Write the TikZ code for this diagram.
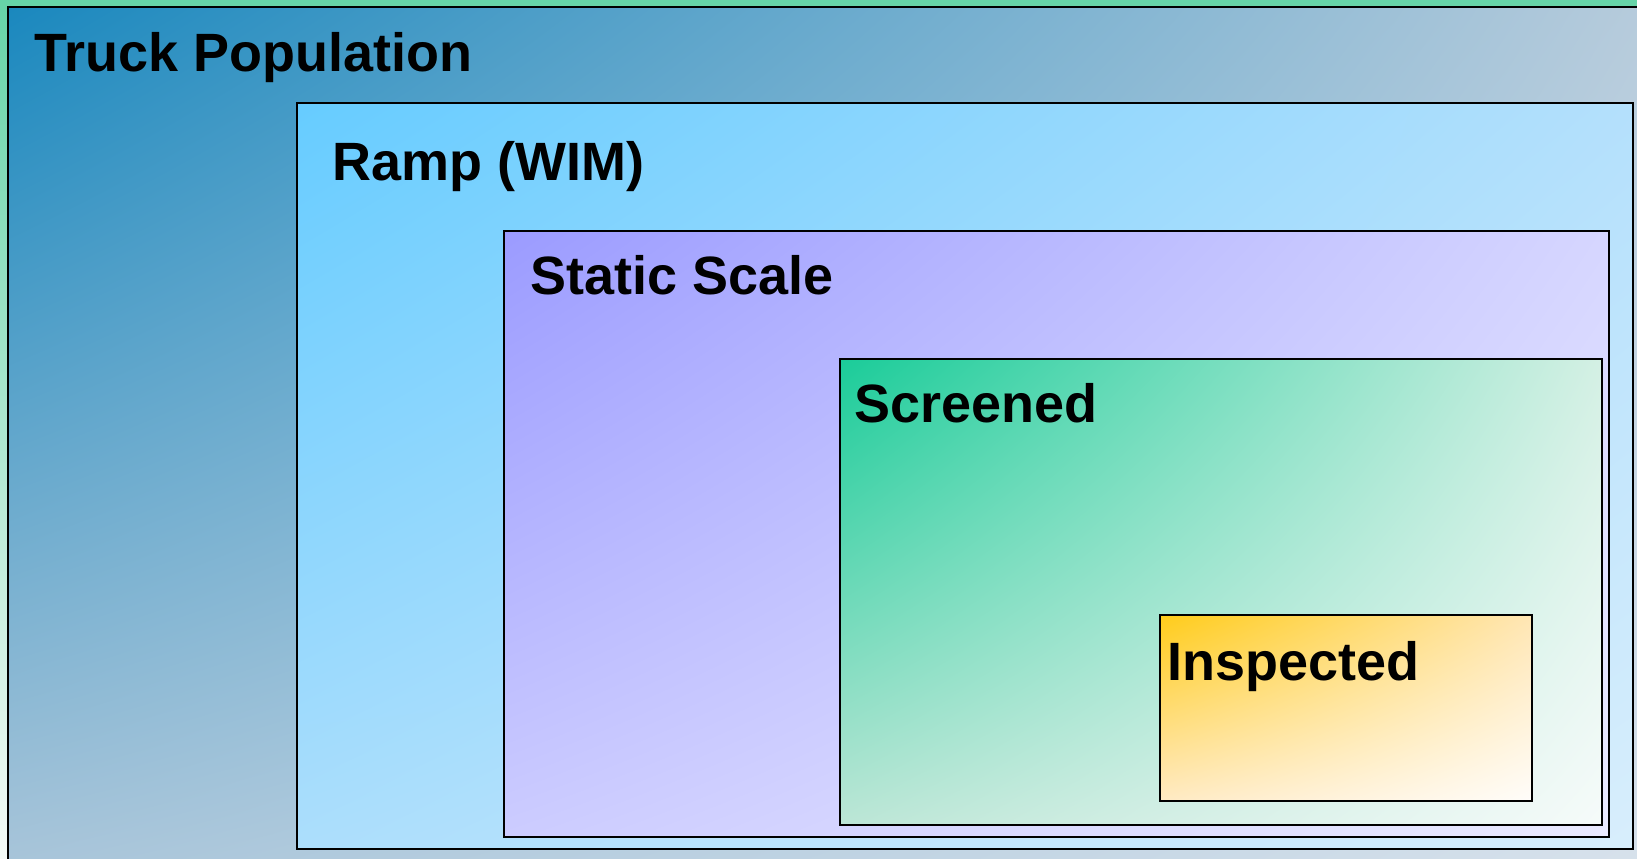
\documentclass[tikz,border=0pt]{standalone}
\usepackage{fontspec}
\setmainfont{Liberation Sans}
\usetikzlibrary{shadings}
\definecolor{bggreen}{HTML}{66D4A8}
\definecolor{bgwhite}{HTML}{F4FAF7}
% truck population
\definecolor{truckUL}{HTML}{1A88BE}
\definecolor{truckUR}{HTML}{B8CCDC}
\definecolor{truckLL}{HTML}{ABC6DA}
\definecolor{truckLR}{HTML}{D8E2EC}
% ramp
\definecolor{rampUL}{HTML}{66CCFF}
\definecolor{rampUR}{HTML}{B4E0FC}
\definecolor{rampLL}{HTML}{ACDEFC}
\definecolor{rampLR}{HTML}{D8EEFC}
% static scale
\definecolor{staticUL}{HTML}{9B9BFF}
\definecolor{staticUR}{HTML}{D6D6FF}
\definecolor{staticLL}{HTML}{CCCCFF}
\definecolor{staticLR}{HTML}{EAEAFF}
% screened
\definecolor{screenUL}{HTML}{1ACC99}
\definecolor{screenUR}{HTML}{D4F0E4}
\definecolor{screenLL}{HTML}{BCE6D6}
\definecolor{screenLR}{HTML}{F6FBFA}
% inspected
\definecolor{inspUL}{HTML}{FFCC1A}
\definecolor{inspUR}{HTML}{FFE6B4}
\definecolor{inspLL}{HTML}{FFEAC4}
\definecolor{inspLR}{HTML}{FFFDFA}
\begin{document}
\begin{tikzpicture}[x=0.1mm,y=-0.1mm,
    box/.style={draw=black,line width=0.8pt},
    lbl/.style={anchor=base west,inner sep=0pt,font=\bfseries\fontsize{15.35}{18}\selectfont}]
  \useasboundingbox (0,0) rectangle (1637,858);
  \clip (0,0) rectangle (1637,858);
  % background
  \shade[top color=bggreen,bottom color=bgwhite] (0,0) rectangle (1637,858);
  % nested sets
  \draw[box,upper left=truckUL,upper right=truckUR,
        lower left=truckLL,lower right=truckLR] (8,7) rectangle (1660,880);
  \draw[box,upper left=rampUL,upper right=rampUR,
        lower left=rampLL,lower right=rampLR] (297,103) rectangle (1633,849);
  \draw[box,upper left=staticUL,upper right=staticUR,
        lower left=staticLL,lower right=staticLR] (504,231) rectangle (1609,837);
  \draw[box,upper left=screenUL,upper right=screenUR,
        lower left=screenLL,lower right=screenLR] (840,359) rectangle (1602,825);
  \draw[box,upper left=inspUL,upper right=inspUR,
        lower left=inspLL,lower right=inspLR] (1160,615) rectangle (1532,801);
  % labels
  \node[lbl] (truck) at (34,71) {Truck Population};
  \node[lbl] (ramp) at (332,180) {Ramp (WIM)};
  \node[lbl] (static) at (530,294) {Static Scale};
  \node[lbl] (screened) at (854,422) {Screened};
  \node[lbl] (inspected) at (1167,680) {Inspected};
\end{tikzpicture}
\end{document}
